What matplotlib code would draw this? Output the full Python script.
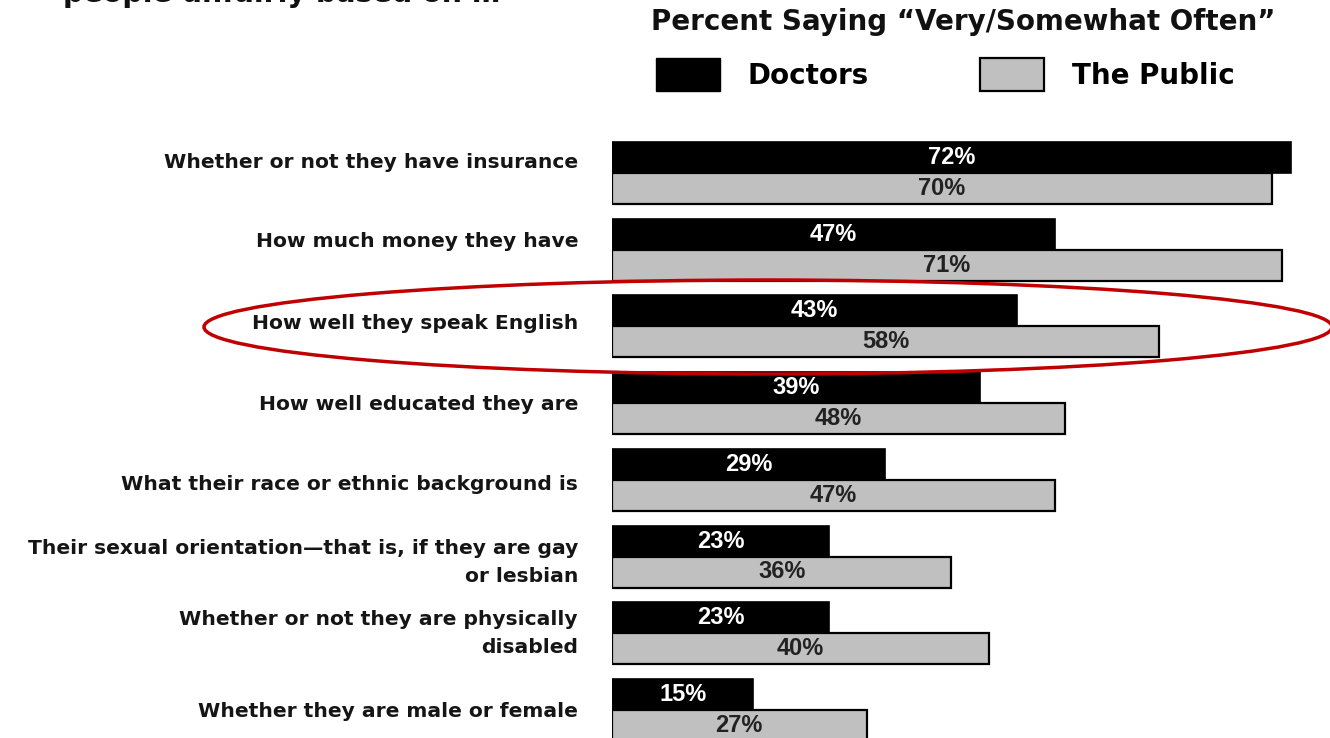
import matplotlib
matplotlib.use("Agg")
import matplotlib.pyplot as plt
from matplotlib.patches import Ellipse, Patch

plt.rcParams['font.family'] = ['DejaVu Sans']
plt.rcParams['font.weight'] = 'bold'

categories = [
    "Whether or not they have insurance",
    "How much money they have",
    "How well they speak English",
    "How well educated they are",
    "What their race or ethnic background is",
    "Their sexual orientation\u2014that is, if they are gay\nor lesbian",
    "Whether or not they are physically\ndisabled",
    "Whether they are male or female",
]
doctors = [72, 47, 43, 39, 29, 23, 23, 15]
public = [70, 71, 58, 48, 47, 36, 40, 27]

W, H = 1330, 738
fig = plt.figure(figsize=(W / 100, H / 100), dpi=100)

# bar axes: x origin at px 612, 9.43 px per percent; groups 76.7 px apart
x0 = 612
ppp = 9.43
gap = 76.7
first = 173
ax = fig.add_axes([x0 / W, 0, (W - x0) / W, 1])
ax.set_xlim(0, (W - x0) / ppp)
ax.set_ylim((H - first) / gap, -first / gap)

bh = 31 / gap
ys = list(range(len(categories)))
ax.barh([y - bh / 2 for y in ys], doctors, height=bh, color='black',
        edgecolor='black', linewidth=1.2, zorder=3)
ax.barh([y + bh / 2 for y in ys], public, height=bh, color='#c0c0c0',
        edgecolor='black', linewidth=1.6, zorder=2)

for y, d, p in zip(ys, doctors, public):
    ax.text(d / 2, y - bh / 2, f"{d}%", color='white', fontsize=17,
            family='Liberation Sans', ha='center', va='center', zorder=4)
    ax.text(p / 2, y + bh / 2, f"{p}%", color='#222222', fontsize=17,
            family='Liberation Sans', ha='center', va='center', zorder=4)

# category labels, right-aligned left of the bars (small per-row nudges in px)
label_nudge = [-11, -8, -3, 1, 5, 6, 0, 2]
for y, lab, nd in zip(ys, categories, label_nudge):
    ax.text(-34 / ppp, y + nd / gap, lab, fontsize=14.6, color='#151515',
            ha='right', va='center', linespacing=1.6, multialignment='right')

ax.set_xticks([])
ax.set_yticks([])
for s in ax.spines.values():
    s.set_visible(False)

# overlay in pixel coordinates for title, legend and highlight
ov = fig.add_axes([0, 0, 1, 1], zorder=10)
ov.set_xlim(0, W)
ov.set_ylim(H, 0)
ov.axis('off')
ov.patch.set_alpha(0)

ov.text(63, 2, "people unfairly based on \u2026", fontsize=20.5, ha='left',
        va='baseline', color='#111111')
ov.text(963, 22, "Percent Saying \u201cVery/Somewhat Often\u201d", fontsize=20,
        ha='center', va='center', color='#111111')

ov.add_patch(Ellipse((768, 327), 1128, 94, fill=False, edgecolor='#c00000',
                     linewidth=2.5))

handles = [Patch(facecolor='black', edgecolor='black', label='Doctors'),
           Patch(facecolor='#c0c0c0', edgecolor='black', linewidth=1.6,
                 label='The Public')]
fig.legend(handles=handles, loc='upper left', bbox_to_anchor=(656 / W, 1 - 58 / H),
           ncol=2, frameon=False, fontsize=20, handlelength=2.3,
           handleheight=1.46, handletextpad=1.0, columnspacing=4.0,
           borderpad=0, borderaxespad=0)

fig.savefig("out.png", dpi=100, facecolor='white')
